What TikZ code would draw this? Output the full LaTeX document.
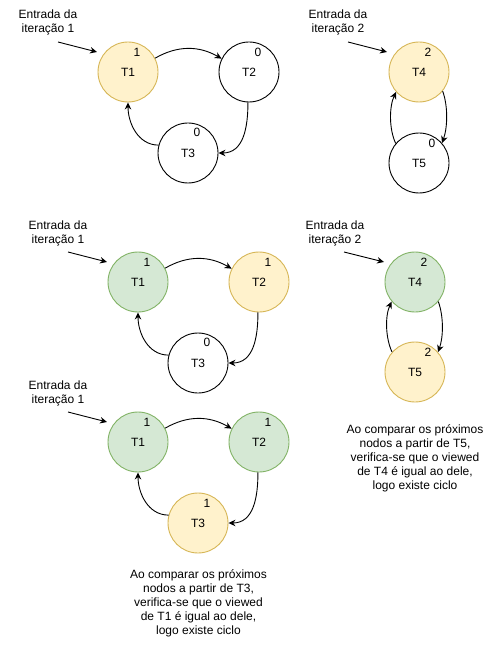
\documentclass[tikz,border=0pt]{standalone}
\usepackage{fontspec}
\setmainfont{Liberation Sans}
\usetikzlibrary{arrows.meta}
\definecolor{yfill}{HTML}{FFF2CC}
\definecolor{ydraw}{HTML}{D6B656}
\definecolor{gfill}{HTML}{D5E8D4}
\definecolor{gdraw}{HTML}{82B366}
\newcommand{\fsz}{\fontsize{12pt}{14pt}\selectfont}
\begin{document}
\begin{tikzpicture}[x=1pt,y=-1pt,
  st/.style={circle,draw=black,line width=0.9pt,minimum size=60pt,inner sep=0pt,font=\fsz},
  wht/.style={st,fill=white},
  yel/.style={st,fill=yfill,draw=ydraw},
  grn/.style={st,fill=gfill,draw=gdraw},
  num/.style={font=\fsz,inner sep=0pt},
  lbl/.style={font=\fsz,align=center,inner sep=0pt},
  edg/.style={-{Stealth[length=7pt,width=6.5pt]},line width=0.9pt}]
\useasboundingbox (0,0) rectangle (497,660);

% ---------- group 1 ----------
\node[yel] (a1) at (128,72) {T1};
\node[wht] (a2) at (249,72) {T2};
\node[wht] (a3) at (188,153) {T3};
\node[num] (a1n) at (137,52) {1};
\node[num] (a2n) at (258,52) {0};
\node[num] (a3n) at (197,132) {0};
\node[lbl] (ae) at (48,22.5) {Entrada da\\iteração 1};
\coordinate (ae0) at (58,42);
\coordinate (ae1) at (97,52);
\draw[edg] (ae0) -- (ae1);
\draw[edg] (a1.27) to[out=30,in=150] (a2.154);
\draw[edg] (a2.-92) to[out=-90,in=0,looseness=1.1] (a3.east);
\draw[edg] (a3.165) to[out=180,in=-90] (a1.south);

% ---------- group 2 ----------
\node[yel] (b4) at (419,72) {T4};
\node[wht] (b5) at (419,163) {T5};
\node[num] (b4n) at (428,52) {2};
\node[num] (b5n) at (432,143) {0};
\node[lbl] (be) at (338,22.5) {Entrada da\\iteração 2};
\coordinate (be0) at (348,42);
\coordinate (be1) at (387,52);
\draw[edg] (be0) -- (be1);
\draw[edg] (b4.-39) to[out=-70,in=70,looseness=0.8] (b5.41);
\draw[edg] (b5.140) to[out=115,in=-115,looseness=0.8] (b4.-139);

% ---------- group 3 ----------
\node[grn] (c1) at (138,282) {T1};
\node[yel] (c2) at (259,282) {T2};
\node[wht] (c3) at (198,363) {T3};
\node[num] (c1n) at (147,262) {1};
\node[num] (c2n) at (268,262) {1};
\node[num] (c3n) at (207,342) {0};
\node[lbl] (ce) at (58,233) {Entrada da\\iteração 1};
\coordinate (ce0) at (68,252);
\coordinate (ce1) at (107,262);
\draw[edg] (ce0) -- (ce1);
\draw[edg] (c1.27) to[out=30,in=150] (c2.154);
\draw[edg] (c2.-92) to[out=-90,in=0,looseness=1.1] (c3.east);
\draw[edg] (c3.165) to[out=180,in=-90] (c1.south);

% ---------- group 4 ----------
\node[grn] (d4) at (415,282) {T4};
\node[yel] (d5) at (415,372) {T5};
\node[num] (d4n) at (424,262) {2};
\node[num] (d5n) at (428,352) {2};
\node[lbl] (de) at (335,233) {Entrada da\\iteração 2};
\coordinate (de0) at (344,252);
\coordinate (de1) at (384,262);
\draw[edg] (de0) -- (de1);
\draw[edg] (d4.-40) to[out=-70,in=70,looseness=0.8] (d5.41);
\draw[edg] (d5.139) to[out=115,in=-115,looseness=0.8] (d4.-140);
\node[lbl] (dt) at (415,458.5) {Ao comparar os próximos\\nodos a partir de T5,\\verifica-se que o viewed\\de T4 é igual ao dele,\\logo existe ciclo};

% ---------- group 5 ----------
\node[grn] (e1) at (138,442) {T1};
\node[grn] (e2) at (259,442) {T2};
\node[yel] (e3) at (198,523) {T3};
\node[num] (e1n) at (147,422) {1};
\node[num] (e2n) at (268,422) {1};
\node[num] (e3n) at (207,503) {1};
\node[lbl] (ee) at (58,393) {Entrada da\\iteração 1};
\coordinate (ee0) at (68,412);
\coordinate (ee1) at (107,422);
\draw[edg] (ee0) -- (ee1);
\draw[edg] (e1.27) to[out=30,in=150] (e2.154);
\draw[edg] (e2.-92) to[out=-90,in=0,looseness=1.1] (e3.east);
\draw[edg] (e3.165) to[out=180,in=-90] (e1.south);
\node[lbl] (et) at (198.5,603.5) {Ao comparar os próximos\\nodos a partir de T3,\\verifica-se que o viewed\\de T1 é igual ao dele,\\logo existe ciclo};
\end{tikzpicture}
\end{document}
